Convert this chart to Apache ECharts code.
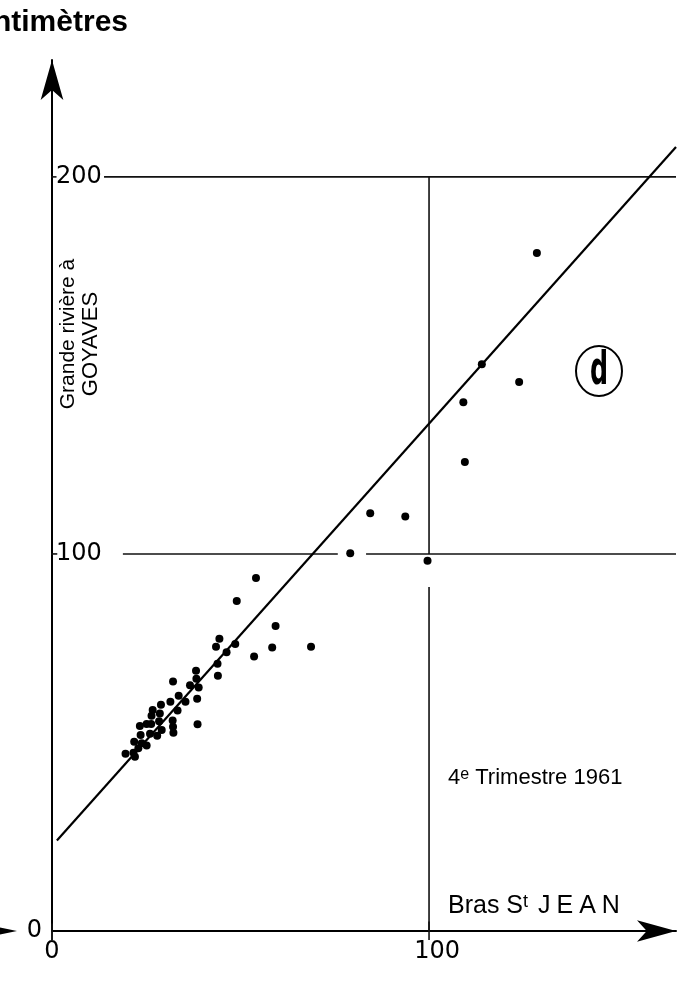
<!DOCTYPE html>
<html><head><meta charset="utf-8">
<script src="https://cdn.jsdelivr.net/npm/echarts@6/dist/echarts.min.js"></script>
<style>html,body{margin:0;padding:0;background:#fff}#c{width:677px;height:982px}</style>
</head><body><div id="c"></div><script>
// Bras St JEAN (x) vs Grande rivière à GOYAVES (y), centimètres
const pointX=[128.6,114.0,123.9,109.1,109.5,84.4,93.7,79.1,99.6,68.7,54.1,49.0,59.3,44.4,48.6,58.4,43.5,46.3,53.6,43.9,44.0,38.2,38.3,36.6,38.9,32.1,33.6,38.5,35.4,31.4,33.3,28.9,26.7,26.4,28.6,28.4,32.0,32.1,32.2,38.6,26.3,23.3,25.1,29.1,27.9,26.0,23.5,21.8,23.8,25.1,22.9,21.6,19.5,22.0];
const pointY=[179.8,150.3,145.6,140.2,124.4,110.8,109.9,100.2,98.2,75.4,93.6,87.5,80.9,77.5,76.1,75.2,75.4,73.9,72.8,70.9,67.7,69.0,66.9,65.2,64.6,66.2,62.4,61.6,60.8,60.8,58.5,60.0,58.6,57.1,57.7,55.6,55.8,54.2,52.6,54.8,54.9,54.4,54.9,53.3,51.8,52.3,52.0,50.2,49.8,49.2,48.5,47.3,47.0,46.2];
const fitX=[1.3,165.5];
const fitY=[24.0,207.9];
const xTicks=[0,100];
const yTicks=[0,100,200];
// reference lines (data units)
const refSegments=[
  [[13.8,200],[165.5,200]],
  [[18.8,100],[75.8,100]],
  [[83.3,100],[165.5,100]],
  [[100,200],[100,100]],
  [[100,91.2],[100,0]],
  [[-3.2,200],[1.2,200]],
  [[-3.0,100],[1.4,100]],
  [[0,0],[0,-2.4]],
  [[-2.4,0],[0,0]],
  [[0,-2.4],[0,2.0]],
  [[100,-2.4],[100,2.5]]
];
const FONT='Liberation Sans';
const NUMFONT='DejaVu Sans';
const chart=echarts.init(document.getElementById('c'),null,{renderer:'canvas'});
const series=[];
refSegments.forEach(s=>series.push({type:'line',data:s,showSymbol:false,clip:false,silent:true,
  lineStyle:{color:'#111',width:1.6},animation:false}));
series.push({type:'line',data:fitX.map((x,i)=>[x,fitY[i]]),showSymbol:false,clip:false,silent:true,
  lineStyle:{color:'#000',width:2.2},animation:false});
series.push({type:'scatter',data:pointX.map((x,i)=>[x,pointY[i]]),symbolSize:8,
  itemStyle:{color:'#000',opacity:1},clip:false,animation:false,z:5});
chart.setOption({
  animation:false,
  grid:{left:52,top:60,width:624,height:871,containLabel:false},
  xAxis:{type:'value',min:0,max:165.5,interval:100,
    axisLine:{show:true,lineStyle:{color:'#000',width:2},symbol:['none','arrow'],symbolSize:[16,39]},
    axisTick:{show:false},splitLine:{show:false},
    axisLabel:{color:'#000',fontSize:24,fontFamily:NUMFONT,margin:9,showMaxLabel:false,
      formatter:v=>v===0?'0':(xTicks.includes(v)?'{r|'+v+'}':''),
      rich:{r:{color:'#000',fontSize:24,fontFamily:NUMFONT,padding:[0,0,0,16]}}}},
  yAxis:[{type:'value',min:0,max:231,interval:100,
    axisLine:{show:true,lineStyle:{color:'#000',width:2},symbol:['none','arrow'],symbolSize:[17,40]},
    axisTick:{show:false},splitLine:{show:false},
    axisLabel:{inside:true,color:'#000',fontSize:24,fontFamily:NUMFONT,margin:4,padding:[8,0,0,0],
      formatter:v=>(v!==0&&yTicks.includes(v))?String(v):''}},
   {type:'value',min:0,max:231,interval:100,position:'left',
    axisLine:{show:false},axisTick:{show:false},splitLine:{show:false},
    axisLabel:{color:'#000',fontSize:24,fontFamily:NUMFONT,margin:10,
      formatter:v=>v===0?'0':''}}],
  series:series,
  graphic:[
    {type:'text',x:128,y:23,style:{text:'Centimètres',font:'bold 30px "Liberation Sans"',fill:'#000',textAlign:'right',textVerticalAlign:'middle'}},
    {type:'text',x:68,y:334,rotation:Math.PI/2,style:{text:'Grande rivière à',font:'21px "Liberation Sans"',fill:'#000',textAlign:'center',textVerticalAlign:'middle'}},
    {type:'text',x:91,y:344,rotation:Math.PI/2,style:{text:'GOYAVES',font:'22px "Liberation Sans"',fill:'#000',textAlign:'center',textVerticalAlign:'middle'}},
    {type:'text',x:448,y:778,style:{text:'4{s|e} Trimestre 1961',font:'22px "Liberation Sans"',fill:'#000',textVerticalAlign:'middle',
      rich:{s:{fontSize:16,verticalAlign:'top',fontFamily:FONT}}}},
    {type:'text',x:448,y:906,style:{text:'Bras S{s|t} {j|J}{j|E}{j|A}{j|N}',font:'25px "Liberation Sans"',fill:'#000',textVerticalAlign:'middle',
      rich:{s:{fontSize:18,verticalAlign:'top',fontFamily:FONT},j:{fontSize:25,fontFamily:FONT,padding:[0,3,0,3]}}}},
    {type:'ellipse',shape:{cx:599,cy:371,rx:23,ry:25},style:{fill:'none',stroke:'#000',lineWidth:2}},
    {type:'text',x:599,y:372,scaleX:0.55,style:{text:'d',font:'bold 46px "DejaVu Sans"',fill:'#000',textAlign:'center',textVerticalAlign:'middle'}},
    {type:'polygon',shape:{points:[[17,931],[-22,923],[-22,939]]},style:{fill:'#000'}}
  ]
});
</script></body></html>
